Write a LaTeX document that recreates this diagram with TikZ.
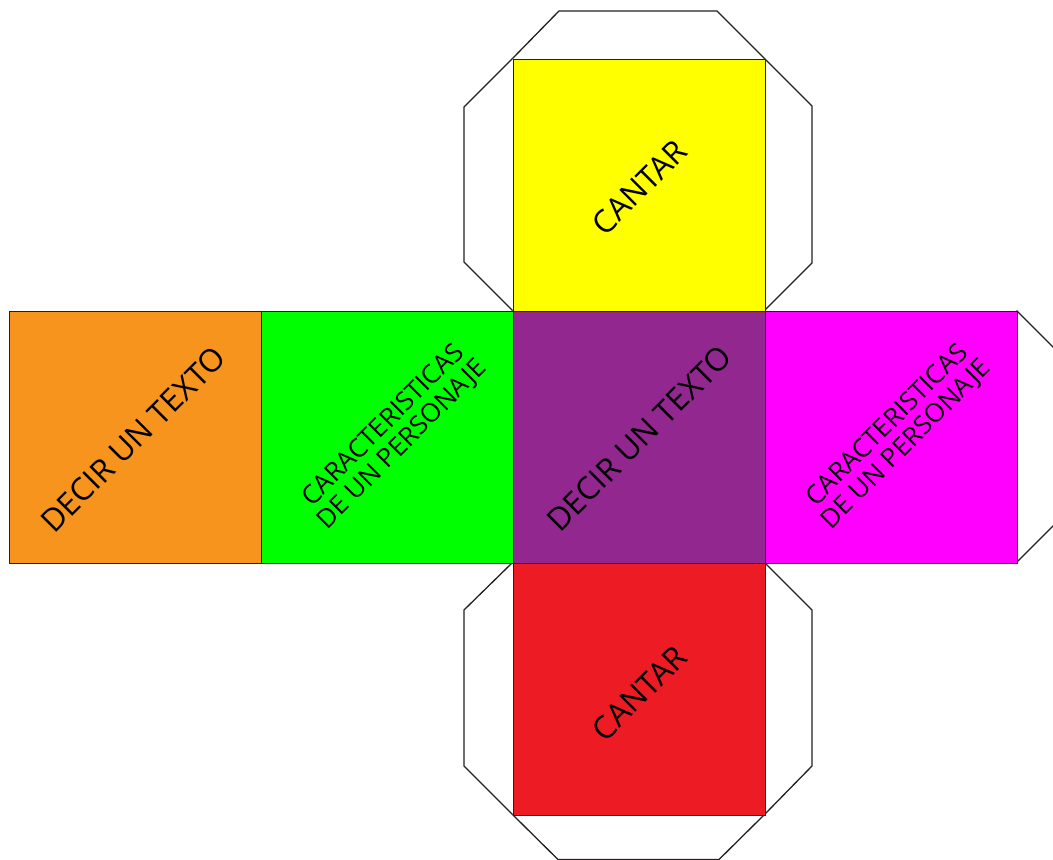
\documentclass[tikz,border=0pt]{standalone}
\usepackage{fontspec}
\setmainfont{Open Sans}
\definecolor{cOrange}{HTML}{F7941D}
\definecolor{cGreen}{HTML}{00FF00}
\definecolor{cPurple}{HTML}{92278F}
\definecolor{cMagenta}{HTML}{FF00FF}
\definecolor{cYellow}{HTML}{FFFF00}
\definecolor{cRed}{HTML}{ED1C24}
\definecolor{cLine}{HTML}{231F20}
\begin{document}
\begin{tikzpicture}[x=1pt,y=-1pt,
  face/.style={draw=cLine, line width=1.6pt, minimum width=252pt, minimum height=252pt, inner sep=0pt, anchor=north west},
  tab/.style={draw=cLine, line width=1.3pt, line join=miter},
  big/.style={rotate=45, inner sep=0pt, font=\fontsize{31.5}{33}\selectfont, text=black},
  small/.style={rotate=45, inner sep=0pt, font=\fontsize{26}{27}\selectfont, text=black, align=center}]
\useasboundingbox (0,0) rectangle (1053,860);
\clip (0,0) rectangle (1053,860);
% tabs
\draw[tab] (512.5,58.5) -- (559,11) -- (717,11) -- (764.5,58.5);
\draw[tab] (512.5,58.5) -- (464,107) -- (464,262) -- (512.5,310.5);
\draw[tab] (764.5,58.5) -- (812,106) -- (812,263) -- (764.5,310.5);
\draw[tab] (512.5,562.5) -- (464,610) -- (464,766) -- (512.5,814.5);
\draw[tab] (764.5,562.5) -- (812,610) -- (812,766) -- (764.5,814.5);
\draw[tab] (512.5,814.5) -- (558,859.5) -- (719,859.5) -- (764.5,814.5);
\draw[tab] (1016.5,310.5) -- (1064,358) -- (1064,515) -- (1016.5,562.5);
% faces
\node[face, fill=cOrange]  (orange)  at (8.5,310.5) {};
\node[face, fill=cGreen]   (green)   at (260.5,310.5) {};
\node[face, fill=cPurple]  (purple)  at (512.5,310.5) {};
\node[face, fill=cMagenta] (magenta) at (764.5,310.5) {};
\node[face, fill=cYellow]  (yellow)  at (512.5,58.5) {};
\node[face, fill=cRed]     (red)     at (512.5,562.5) {};
% labels
\node[big] (t1) at ([xshift=-2pt,yshift=-2pt]orange.center) {DECIR UN TEXTO};
\node[small] (t2) at ([xshift=6pt,yshift=2pt]green.center) {CARACTERISTICAS\\DE UN PERSONAJE};
\node[big] (t3) at ([yshift=-1pt]purple.center) {DECIR UN TEXTO};
\node[small] (t4) at ([xshift=6pt,yshift=2pt]magenta.center) {CARACTERISTICAS\\DE UN PERSONAJE};
\node[big] (t5) at ([yshift=-2pt]yellow.center) {CANTAR};
\node[big] (t6) at ([yshift=-4pt]red.center) {CANTAR};
\end{tikzpicture}
\end{document}
